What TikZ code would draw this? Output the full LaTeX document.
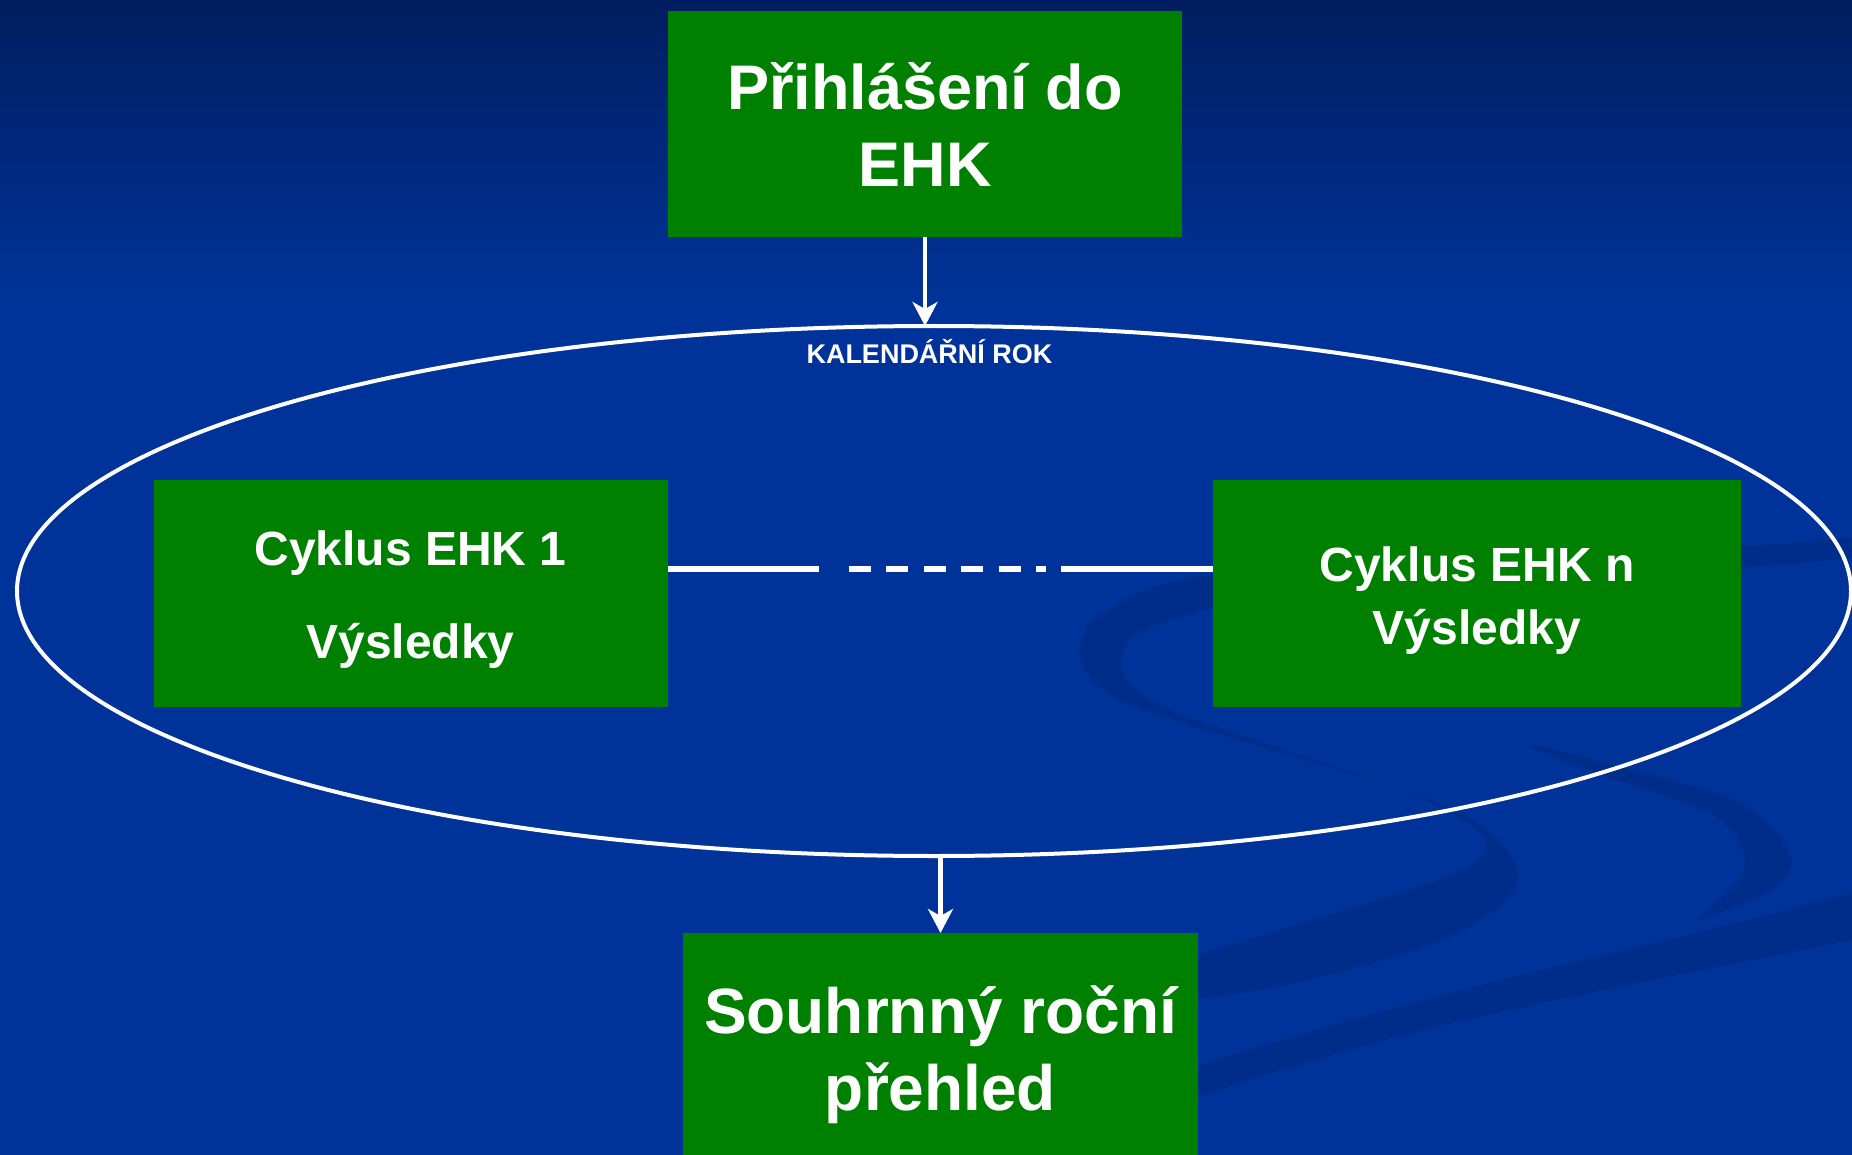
\documentclass[tikz,border=0pt]{standalone}
\usepackage{fontspec}
\setmainfont{Liberation Sans}
\usetikzlibrary{arrows.meta,shapes.geometric}
\definecolor{bgtop}{RGB}{0,30,95}
\definecolor{bgmain}{RGB}{0,51,153}
\definecolor{boxgreen}{RGB}{0,128,0}
\definecolor{swirlblue}{RGB}{0,45,137}
\begin{document}
\begin{tikzpicture}[x=1pt,y=-1pt,
  greenbox/.style={fill=boxgreen, draw=none, inner sep=0pt, outer sep=0pt,
    text=white, align=center},
  arr/.style={draw=white, line width=4.5pt,
    -{Stealth[length=24pt, width=25pt, inset=7pt]}},
  link/.style={draw=white, line width=6pt},
  swirl/.style={fill=swirlblue}]
\useasboundingbox (0,0) rectangle (1852,1155);
% background
\fill[bgmain] (0,0) rectangle (1852,1155);
\shade[top color=bgtop, bottom color=bgmain] (0,0) rectangle (1852,300);
% decorative swirls
\fill[swirl] (1600,558) -- (1852,538) -- (1852,558) -- (1600,580) -- cycle;
\fill[swirl] plot[smooth, tension=0.55] coordinates {(1240,570) (1150,588) (1090,625) (1081,660) (1110,695) (1190,725) (1280,752) (1408,792) (1485,828) (1518,872) (1500,905) (1435,943) (1300,982) (1190,1000)}
  -- plot[smooth, tension=0.55] coordinates {(1190,957) (1272,932) (1400,893) (1470,866) (1487,843) (1459,817) (1380,782) (1255,740) (1160,705) (1122,670) (1140,632) (1240,600)} -- cycle;
\fill[swirl] plot[smooth, tension=0.55] coordinates {(1530,744) (1613,765) (1740,803) (1791,857) (1768,892) (1694,922)}
  -- plot[smooth, tension=0.55] coordinates {(1694,922) (1705,913) (1745,867) (1717,817) (1620,781) (1530,748)} -- cycle;
\fill[swirl] plot[smooth, tension=0.5] coordinates {(1852,893) (1707,930) (1489,983) (1326,1027) (1190,1068)}
  -- plot[smooth, tension=0.5] coordinates {(1190,1100) (1272,1073) (1435,1027) (1652,980) (1852,940)} -- cycle;
% ellipse
\node[draw=white, line width=4pt, ellipse, minimum width=1834pt, minimum height=530pt, inner sep=0pt, outer sep=0pt] (ell) at (934,591) {};
\node[text=white, font=\bfseries\fontsize{27}{32}\selectfont, anchor=base, inner sep=0pt] (cal) at (929.5,363) {KALENDÁŘNÍ ROK};
% boxes
\node[greenbox, minimum width=514pt, minimum height=226pt, font=\bfseries\fontsize{63}{77}\selectfont] (top) at (925,124.5)
  {\rule{0pt}{48pt}\smash{Přihlášení do}\\\smash{EHK}};
\node[greenbox, minimum width=514pt, minimum height=227pt, font=\bfseries\fontsize{48}{93}\selectfont] (L) at (410.5,593)
  {\rule{0pt}{37pt}\smash{Cyklus EHK 1}\\\smash{Výsledky}};
\node[greenbox, minimum width=528pt, minimum height=227pt, font=\bfseries\fontsize{48}{63}\selectfont] (R) at (1477,593)
  {\rule{0pt}{39pt}\smash{Cyklus EHK n}\\\smash{Výsledky}};
\node[greenbox, minimum width=515pt, minimum height=226pt, font=\bfseries\fontsize{64}{77}\selectfont] (bot) at (940.5,1046)
  {\rule{0pt}{51pt}\smash{Souhrnný roční}\\\smash{přehled}};
% connectors
\draw[arr] (top.south) -- (top.south |- ell.north);
\draw[arr] (ell.south -| bot.north) -- (bot.north);
\coordinate (c1) at (819,569);
\coordinate (c2) at (849,569);
\coordinate (c3) at (1046,569);
\coordinate (c4) at (1061,569);
\draw[link] (L.east |- c1) -- (c1);
\draw[link, dash pattern=on 22pt off 15.4pt] (c2) -- (c3);
\draw[link] (c4) -- (R.west |- c4);
\end{tikzpicture}
\end{document}
